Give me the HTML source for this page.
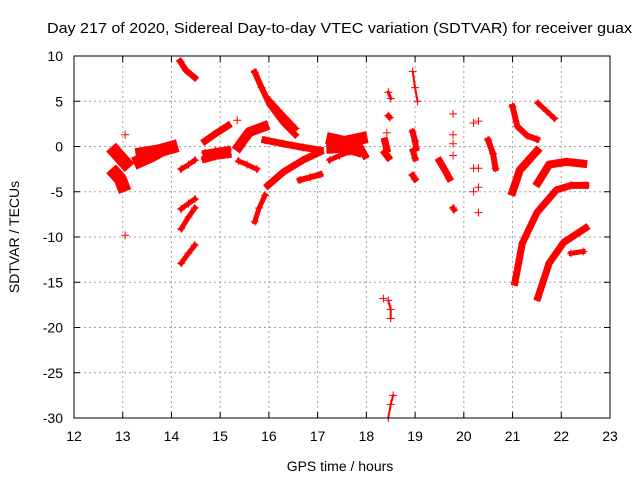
<!DOCTYPE html>
<html><head><meta charset="utf-8"><style>
body{margin:0;background:#fff}
svg{display:block;font-family:"Liberation Sans",sans-serif}
</style></head><body>
<svg id="chart" width="640" height="480">
<text x="47" y="33" font-size="15" textLength="585" lengthAdjust="spacingAndGlyphs">Day 217 of 2020, Sidereal Day-to-day VTEC variation (SDTVAR) for receiver guax</text>
<text x="340" y="471" font-size="14" text-anchor="middle">GPS time / hours</text>
<text transform="translate(19,237) rotate(-90)" font-size="14" text-anchor="middle">SDTVAR / TECUs</text>
<g id="grid"></g><g id="ticks"></g><g id="marks"></g>
<rect x="74" y="56" width="536" height="362" fill="none" stroke="#000" stroke-width="1"/>
</svg>
<script>
const xTicks=[12,13,14,15,16,17,18,19,20,21,22,23];
const yTicks=[10,5,0,-5,-10,-15,-20,-25,-30];
// segments of [hour, SDTVAR]
const segments=[
[[12.85,-0.6],[12.95,-1.2],[13.05,-1.8]],
[[12.85,-3.0],[12.95,-3.6],[13.0,-4.3]],
[[13.35,-1.6],[13.6,-1.0],[13.8,-0.4],[14.0,-0.1]],
[[13.35,-0.6],[13.7,-0.3],[14.0,0.0]],
[[14.18,9.4],[14.3,8.4],[14.48,7.6]],
[[14.2,-2.5],[14.35,-2.0],[14.48,-1.5]],
[[14.2,-6.9],[14.35,-6.3],[14.48,-5.8]],
[[14.2,-9.1],[14.35,-7.8],[14.48,-6.8]],
[[14.2,-12.9],[14.35,-11.8],[14.48,-10.9]],
[[14.69,0.6],[14.9,1.4],[15.16,2.3]],
[[14.69,-1.4],[14.9,-1.1],[15.16,-0.9]],
[[14.69,-0.7],[14.9,-0.5],[15.16,-0.3]],
[[15.38,0.0],[15.5,0.9],[15.6,1.6],[15.9,2.2]],
[[15.38,-1.6],[15.55,-2.0],[15.75,-2.5]],
[[15.71,8.2],[15.85,6.5],[16.02,4.6],[16.3,2.6],[16.54,1.3]],
[[15.95,5.5],[16.2,4.0],[16.55,2.0]],
[[15.92,0.7],[16.3,0.3],[16.7,-0.1],[17.05,-0.4]],
[[15.98,-4.3],[16.3,-2.8],[16.7,-1.5],[17.05,-0.6]],
[[16.64,-3.7],[16.85,-3.4],[17.05,-3.1]],
[[15.71,-8.3],[15.8,-6.8],[15.92,-5.4]],
[[17.3,0.8],[17.55,0.5],[17.9,0.9]],
[[17.3,-0.1],[17.55,0.0],[17.8,-0.4]],
[[17.25,-1.5],[17.45,-1.0],[17.66,-0.6]],
[[17.87,0.0],[17.97,-1.0]],
[[18.45,6.0],[18.5,5.3]],[[18.45,3.4],[18.48,3.2]],
[[18.38,0.6],[18.42,-0.3]],[[18.38,-0.7],[18.45,-1.2]],
[[18.45,-17],[18.5,-18],[18.5,-19]],
[[18.45,-30],[18.5,-28.5],[18.55,-27.5]],
[[18.95,8.3],[19.0,6.5],[19.05,5.0]],
[[18.95,1.6],[19.0,0.6],[19.02,-0.2]],
[[18.96,-0.5],[19.0,-1.3]],[[18.95,-3.2],[19.0,-3.6]],
[[19.5,-1.6],[19.6,-2.5],[19.7,-3.5]],[[19.78,-6.8],[19.8,-7.0]],
[[20.5,0.7],[20.6,-0.8],[20.65,-2.4]],
[[21.0,4.4],[21.1,2.2],[21.3,1.2],[21.5,0.8]],
[[21.52,4.8],[21.7,3.9],[21.86,3.1]],
[[21.0,-5.0],[21.15,-2.6],[21.35,-1.4],[21.5,-0.5]],
[[21.52,-4.0],[21.75,-2.0],[22.1,-1.7],[22.45,-1.9]],
[[21.05,-15],[21.2,-10.7],[21.5,-7.3],[21.9,-4.8],[22.2,-4.3],[22.5,-4.3]],
[[21.52,-16.7],[21.75,-12.9],[22.05,-10.6],[22.5,-9.0]],
[[22.2,-11.8],[22.45,-11.6]]
];
const segWidths=[13,13,13,9,6,5,5,5,5,7,7,6,10,5,6,5,7,7,6,5,12,12,5,7,3,5,7,7,2,2,2,6,6,6,7,5,6,6,5,8,8,7,7,5];
const points=[[13.05,1.3],[13.05,-9.8],[15.35,2.9],[18.42,1.5],[19.78,3.6],[19.78,1.3],[19.78,0.3],[19.78,-1.0],[20.2,2.6],[20.3,2.8],[20.2,-2.4],[20.3,-2.4],[20.3,-4.5],[20.2,-5.0],[20.3,-7.3],[18.35,-16.8]];
const X=h=>74+(h-12)*536/11, Y=v=>56+(10-v)*362/40;
const NS="http://www.w3.org/2000/svg";
const grid=document.getElementById('grid'),ticks=document.getElementById('ticks'),marks=document.getElementById('marks');
function mk(tag,attrs,parent){const e=document.createElementNS(NS,tag);for(const k in attrs)e.setAttribute(k,attrs[k]);parent.appendChild(e);return e;}
xTicks.forEach(t=>{const x=X(t);
 if(t>12&&t<23){const g=mk('line',{x1:x,x2:x,y1:56,y2:418,stroke:'#a0a0a0','stroke-dasharray':'2,3'},grid);
 
 }
 const tk=mk('path',{d:`M${x},418v-6M${x},56v6`,stroke:'#000'},ticks);
 
 
 const tl=mk('text',{x:x,y:441,'font-size':14,'text-anchor':'middle'},ticks);tl.textContent=t;
 
 });
yTicks.forEach(t=>{const y=Y(t);
 if(t<10&&t>-30){const g=mk('line',{x1:74,x2:610,y1:y,y2:y,stroke:'#a0a0a0','stroke-dasharray':'2,3'},grid);
 
 }
 const tk=mk('path',{d:`M74,${y}h6M610,${y}h-6`,stroke:'#000'},ticks);
 
 
 const tl=mk('text',{x:63,y:y+5,'font-size':14,'text-anchor':'end'},ticks);tl.textContent=t;
 
 });
function plus(h,v,parent){const x=X(h),y=Y(v);
 const p=mk('path',{d:`M${x-4},${y}h8M${x},${y-4}v8`,stroke:'#f00','stroke-width':1},parent);
 
 }
segments.forEach((s,i)=>{
 const g=mk('g',{},marks);
 
 
 const pl=mk('polyline',{points:s.map(p=>X(p[0])+','+Y(p[1])).join(' '),fill:'none',stroke:'#f00','stroke-width':segWidths[i]||5,'stroke-linecap':'square','stroke-linejoin':'round'},g);
 
 
 s.forEach(p=>plus(p[0],p[1],g));});
points.forEach(p=>plus(p[0],p[1],marks));
</script>
</body></html>
